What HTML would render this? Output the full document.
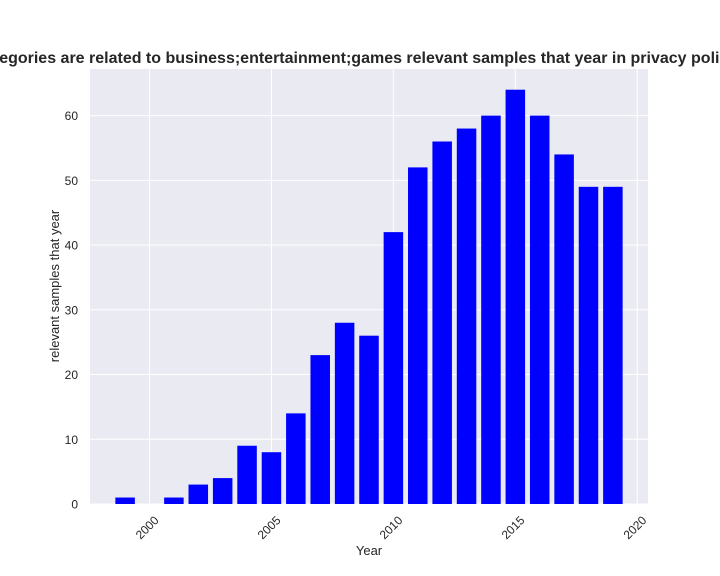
<!DOCTYPE html>
<html><head><meta charset="utf-8"><style>
html,body{margin:0;padding:0;background:#fff;}
svg{display:block;font-family:"Liberation Sans","DejaVu Sans",sans-serif;}
</style></head><body>
<svg id="chart" width="720" height="576">
<rect x="90" y="69" width="558" height="435" fill="#eaeaf2"/>
<g id="grid"></g>
<g id="bars"></g>
<g id="ticks"></g>
<text x="362" y="63" text-anchor="middle" font-size="16" font-weight="bold" fill="#262626">Categories are related to business;entertainment;games relevant samples that year in privacy policies</text>
<text x="369" y="555" text-anchor="middle" font-size="13" fill="#262626">Year</text>
<text transform="translate(59,286) rotate(-90)" text-anchor="middle" font-size="13" fill="#262626">relevant samples that year</text>
</svg>
<script>
const years=[1999,2000,2001,2002,2003,2004,2005,2006,2007,2008,2009,2010,2011,2012,2013,2014,2015,2016,2017,2018,2019];
const counts=[1,0,1,3,4,9,8,14,23,28,26,42,52,56,58,60,64,60,54,49,49];
const xTicks=[2000,2005,2010,2015,2020];
const yTicks=[0,10,20,30,40,50,60];
const NS="http://www.w3.org/2000/svg";
const L=90,R=648,T=69,B=504;
const xMin=1997.56,xMax=2020.44,yMax=67.2;
const xs=v=>L+(v-xMin)/(xMax-xMin)*(R-L);
const ys=v=>B-v/yMax*(B-T);
function mk(tag,attrs,parent){const e=document.createElementNS(NS,tag);for(const k in attrs)e.setAttribute(k,attrs[k]);parent.appendChild(e);return e;}
const grid=document.getElementById('grid'),bars=document.getElementById('bars'),ticks=document.getElementById('ticks');
yTicks.forEach(v=>{
 const l=mk('line',{x1:L,x2:R,y1:ys(v),y2:ys(v),stroke:'#fff','stroke-width':1},grid);
 
 
 const t=mk('text',{x:L-12,y:ys(v)+4.5,'text-anchor':'end','font-size':12,fill:'#262626'},ticks);
 t.textContent=v;
 
 
});
xTicks.forEach(v=>{
 const l=mk('line',{x1:xs(v),x2:xs(v),y1:T,y2:B,stroke:'#fff','stroke-width':1},grid);
 
 
 const x=xs(v)+10,y=B+17;
 const t=mk('text',{x:x,y:y,'text-anchor':'end','font-size':12,fill:'#262626',transform:`rotate(-45 ${x} ${y})`},ticks);
 t.textContent=v;
 
 
});
const w=0.8*(R-L)/(xMax-xMin);
years.forEach((yr,i)=>{
 const r=mk('rect',{x:xs(yr)-w/2,y:ys(counts[i]),width:w,height:B-ys(counts[i]),fill:'#0000ff'},bars);
 
 
});
</script>
</body></html>
